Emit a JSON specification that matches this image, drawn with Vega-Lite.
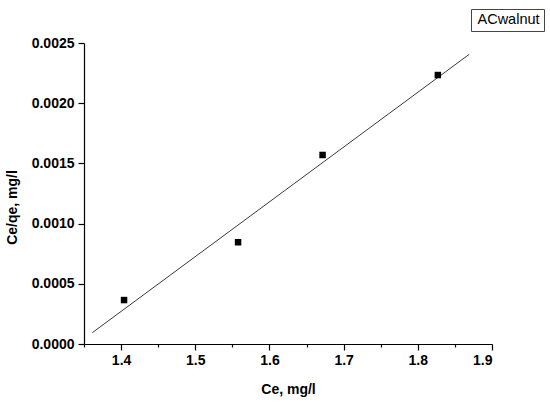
{
  "$schema": "https://vega.github.io/schema/vega-lite/v6.json",
  "width": 408,
  "height": 301,
  "autosize": "none",
  "padding": {"left": 84, "top": 43, "right": 58, "bottom": 61},
  "background": "white",
  "config": {
    "view": {"stroke": null},
    "font": "Liberation Sans",
    "axis": {
      "grid": false,
      "labelOverlap": false,
      "domainColor": "black",
      "domainWidth": 1.2,
      "tickColor": "black",
      "tickWidth": 1.2,
      "labelFont": "Liberation Sans",
      "labelFontWeight": "bold",
      "labelFontSize": 14,
      "labelColor": "black",
      "titleFont": "Liberation Sans",
      "titleFontWeight": "bold",
      "titleFontSize": 14,
      "titleColor": "black"
    }
  },
  "datasets": {
    "points": [
      {"ce": 1.404, "ceqe": 0.000365, "series": "ACwalnut"},
      {"ce": 1.5577, "ceqe": 0.000845, "series": "ACwalnut"},
      {"ce": 1.6716, "ceqe": 0.00157, "series": "ACwalnut"},
      {"ce": 1.827, "ceqe": 0.002234, "series": "ACwalnut"}
    ],
    "fit": [
      {"ce": 1.3612, "ceqe": 0.000094},
      {"ce": 1.8693, "ceqe": 0.002406}
    ]
  },
  "resolve": {"axis": {"x": "independent"}},
  "layer": [
    {
      "data": {"name": "fit"},
      "mark": {"type": "line", "color": "#3a3a3a", "strokeWidth": 1},
      "encoding": {
        "x": {
          "field": "ce",
          "type": "quantitative",
          "axis": {
            "orient": "bottom",
            "title": null,
            "labels": false,
            "domain": false,
            "values": [1.35, 1.45, 1.55, 1.65, 1.75, 1.85],
            "tickSize": 3
          }
        },
        "y": {"field": "ceqe", "type": "quantitative"}
      }
    },
    {
      "data": {"name": "points"},
      "mark": {"type": "point", "shape": "square", "filled": true, "opacity": 1, "size": 42},
      "encoding": {
        "x": {
          "field": "ce",
          "type": "quantitative",
          "scale": {"domain": [1.35, 1.9], "nice": false, "zero": false},
          "axis": {
            "orient": "bottom",
            "title": "Ce, mg/l",
            "values": [1.4, 1.5, 1.6, 1.7, 1.8, 1.9],
            "format": ".1f",
            "tickSize": 6,
            "labelPadding": 3,
            "titlePadding": 15
          }
        },
        "y": {
          "field": "ceqe",
          "type": "quantitative",
          "scale": {"domain": [0, 0.0025], "nice": false},
          "axis": {
            "title": "Ce/qe, mg/l",
            "titleY": 164,
            "values": [0, 0.00025, 0.0005, 0.00075, 0.001, 0.00125, 0.0015, 0.00175, 0.002, 0.00225, 0.0025],
            "labelExpr": "abs(datum.value*2000-round(datum.value*2000))<0.01 ? format(datum.value,'.4f') : ''",
            "tickSize": {"condition": {"test": "abs(datum.value*2000-round(datum.value*2000))<0.01", "value": 6}, "value": 3},
            "labelPadding": 4,
            "titlePadding": 12
          }
        },
        "color": {
          "field": "series",
          "type": "nominal",
          "scale": {"range": ["black"]},
          "legend": {
            "title": null,
            "orient": "none",
            "legendX": 387,
            "legendY": -34,
            "strokeColor": "#444",
            "padding": 4,
            "symbolOpacity": 0,
            "symbolStrokeWidth": 0,
            "labelOffset": -12,
            "labelFont": "Liberation Sans",
            "labelFontSize": 14.5,
            "labelColor": "black"
          }
        }
      }
    }
  ]
}
